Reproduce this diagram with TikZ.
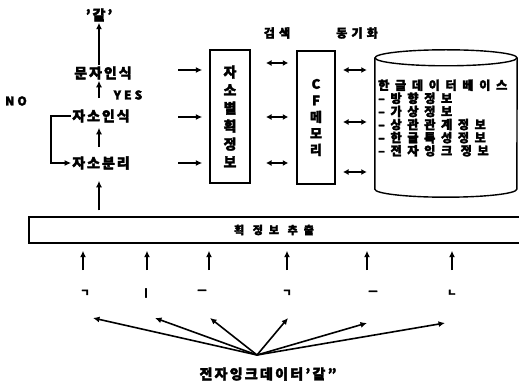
\documentclass[tikz,border=0pt]{standalone}
\usepackage{fontspec}
\setmainfont{Noto Sans CJK KR}[FakeBold=2.5]
\usetikzlibrary{arrows.meta}
\begin{document}
\begin{tikzpicture}[x=1pt,y=-1pt,
  arr/.style={-{Latex[length=6.5pt,width=6pt]}, line width=1.9pt},
  darr/.style={{Latex[length=5.5pt,width=6pt]}-{Latex[length=5.5pt,width=6pt]}, line width=1.9pt},
  lab/.style={inner sep=1pt, font=\bfseries\fontsize{14}{16}\selectfont\addfontfeatures{LetterSpace=14}},
  latin/.style={inner sep=1pt, font=\bfseries\fontsize{12}{14}\selectfont\addfontfeatures{LetterSpace=25}},
  small/.style={inner sep=1pt, font=\bfseries\fontsize{12}{14}\selectfont\addfontfeatures{LetterSpace=35}},
  boxv/.style={draw, line width=1.4pt, inner sep=0pt, align=center},
  stroke/.style={inner sep=0pt, font=\bfseries\fontsize{10}{10}\selectfont},
]
\useasboundingbox (0,0) rectangle (519,390);

% left column
\node[lab] (gal) at (99,15) {'갈'};
\node[lab] (mun) at (103,73) {문자인식};
\node[lab] (jain) at (101,116) {자소인식};
\node[lab] (jabun) at (101,163) {자소분리};
\node[latin] (yes) at (128,95) {YES};
\node[latin] (no) at (16,101) {NO};

% boxes
\node[boxv, minimum width=40, minimum height=133,
      font=\bfseries\fontsize{14}{18}\selectfont] (jb) at (230,116.5)
      {자\\소\\별\\획\\정\\보};
\node[boxv, minimum width=38, minimum height=133,
      font=\bfseries\fontsize{13}{16.5}\selectfont] (cf) at (316,117.5)
      {C\\F\\메\\모\\리};

\node[small] (search) at (277,33) {검색};
\node[small] (sync) at (357,33) {동기화};

% database cylinder
\node[minimum width=142, minimum height=131, inner sep=0pt] (db) at (446,123.5) {};
\draw[line width=1.4pt] (db.north west) -- (db.south west)
   arc[start angle=180, end angle=360, x radius=71pt, y radius=8pt] -- (db.north east);
\draw[line width=1.4pt] (db.north) ellipse[x radius=71pt, y radius=8pt];
\node[anchor=west, inner sep=0pt, align=left,
      font=\bfseries\fontsize{12.2}{13.1}\selectfont\addfontfeatures{LetterSpace=46}] (dbtext) at (378,118)
 {한글데이터베이스\\–방향정보\\–가상정보\\–상관관계정보\\–한글특성정보\\–전자잉크 정보};

% bar
\node[draw, line width=1.4pt, minimum width=494, minimum height=26, inner sep=0pt] (bar) at (276,230) {};
\node[inner sep=0pt, font=\bfseries\fontsize{11}{12}\selectfont\addfontfeatures{LetterSpace=55}] (bartext) at (274,230) {획 정보 추출};

% strokes
\node[stroke] (s1) at (85,293) {ㄱ};
\node[stroke] (s2) at (146,293) {ㅣ};
\node[stroke] (s3) at (202,292) {ㅡ};
\node[stroke] (s4) at (287,293) {ㄱ};
\node[stroke] (s5) at (373,293) {ㅡ};
\node[stroke] (s6) at (452,293) {ㄴ};

\node[inner sep=1pt, font=\bfseries\fontsize{14}{16}\selectfont\addfontfeatures{LetterSpace=16}] (bottom) at (268,374) {전자잉크데이터'갈"};

% left column connectors
\draw[arr] (mun.north -| gal) -- (gal.south);
\draw[arr, shorten <=10pt] (jain.north -| gal) -- (mun.south -| gal);
\draw[arr, shorten <=8pt, shorten >=4pt] (jabun.north -| gal) -- (jain.south -| gal);
\draw[arr, shorten <=6pt, shorten >=10pt] (bar.north -| gal) -- (jabun.south -| gal);
\draw[arr, line width=1.6pt] (jain.west) -- ++(-20,0) |- (jabun.west);

% arrows to stroke box
\foreach \y [count=\i] in {70,117,163} {
  \coordinate (r\i) at (178,\y);
  \draw[arr, shorten >=7pt] (r\i) -- (r\i -| jb.west);
}
% search arrows
\foreach \y [count=\i] in {63,117,163} {
  \coordinate (m\i) at (266,\y);
  \draw[darr, shorten >=8pt] (m\i) -- (m\i -| cf.west);
}
% sync arrows
\foreach \y [count=\i] in {70,122,172} {
  \coordinate (d\i) at (343,\y);
  \draw[darr, shorten >=8pt] (d\i) -- (d\i -| db.west);
}
% arrows under bar
\foreach \x [count=\i] in {83,147,209,287,367,452} {
  \coordinate (u\i) at (\x,270);
  \draw[arr, shorten >=7pt] (u\i) -- (u\i |- bar.south);
}
% fan
\coordinate (fan) at (257,355);
\coordinate (t1) at (93,318);
\coordinate (t2) at (155,318);
\coordinate (t3) at (210,318);
\coordinate (t4) at (288,318);
\coordinate (t5) at (367,323);
\coordinate (t6) at (445,323);
\foreach \i in {1,...,6} {
  \draw[arr, line width=1.6pt] (fan) -- (t\i);
}
\end{tikzpicture}
\end{document}
